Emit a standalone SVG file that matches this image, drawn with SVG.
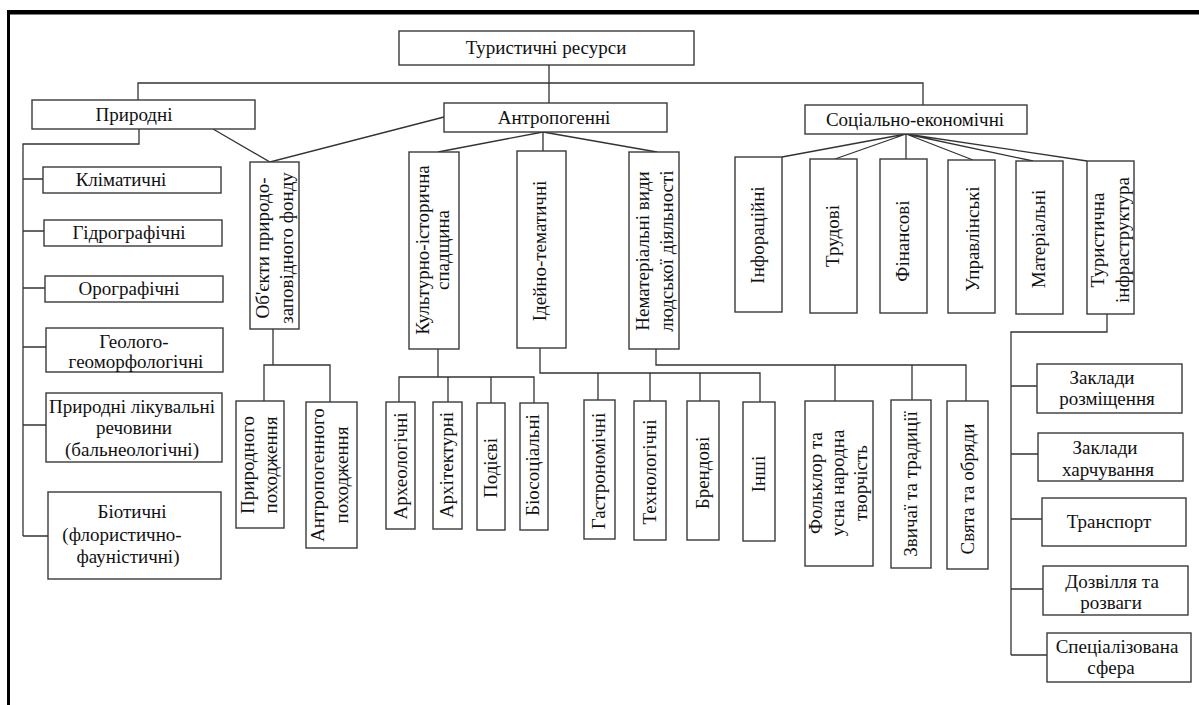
<svg xmlns="http://www.w3.org/2000/svg" width="1199" height="705" viewBox="0 0 1199 705">
<style>
.box{fill:#fff;stroke:#3a3a3a;stroke-width:1.4}
.c{fill:none;stroke:#333;stroke-width:1.3}
.t{font-family:"Liberation Serif","Times New Roman",serif;font-size:19px;fill:#111;text-anchor:middle}
</style>
<rect x="0" y="0" width="1199" height="705" fill="#fff"/>
<rect x="7" y="10" width="1192" height="4.5" fill="#000"/>
<rect x="7" y="10" width="3" height="695" fill="#000"/>
<g id="connectors" class="c">
<path d="M549,65 V103 M138,100 V83 H923 V105"/>
<path d="M139,129 V144 H23 V536 M23,179 H43 M23,231 H44 M23,288 H45 M23,347 H46 M23,425 H46 M23,536 H48"/>
<path d="M213,129 L270,162 L444,117"/>
<path d="M273,329 V365 M264,401 V365 H330 V402"/>
<path d="M543,132 L438,152 M543,132 V151 M543,132 L657,152"/>
<path d="M438,349 V377 M399,402 V377 H534 V403 M448,377 V402 M491,377 V403"/>
<path d="M540,348 V373 H760 V402 M598,373 V400 M650,373 V401 M700,373 V401"/>
<path d="M656,349 V365 H966 V401 M835,365 V401 M912,365 V400"/>
<path d="M906,134 L782,157 M906,134 L835,159 M906,134 V159 M906,134 L973,160 M906,134 L1033,161 M906,134 L1087,161"/>
<path d="M1107,314 V332 H1011 V655 M1011,386 H1037 M1011,454 H1038 M1011,519 H1042 M1011,589 H1043 M1011,655 H1047"/>
</g>
<g id="root"><rect class="box" x="399" y="31" width="295" height="34"/><text class="t" x="546" y="54">Туристичні ресурси</text></g>
<g id="pryrodni"><rect class="box" x="32" y="100" width="223" height="29"/><text class="t" x="134" y="121">Природні</text></g>
<g id="antropogenni"><rect class="box" x="444" y="103" width="223" height="29"/><text class="t" x="554" y="124">Антропогенні</text></g>
<g id="sotsialno"><rect class="box" x="805" y="105" width="222" height="29"/><text class="t" x="915" y="126">Соціально-економічні</text></g>

<g id="klimatychni"><rect class="box" x="43" y="167" width="178" height="26"/><text class="t" x="121" y="186">Кліматичні</text></g>
<g id="hidrohrafichni"><rect class="box" x="44" y="220" width="178" height="26"/><text class="t" x="129" y="239">Гідрографічні</text></g>
<g id="orohrafichni"><rect class="box" x="45" y="276" width="178" height="26"/><text class="t" x="129" y="295">Орографічні</text></g>
<g id="heoloho"><rect class="box" x="46" y="328" width="177" height="44"/><text class="t"><tspan x="134" y="348">Геолого-</tspan><tspan x="136" y="368">геоморфологічні</tspan></text></g>
<g id="likuvalni"><rect class="box" x="46" y="393" width="176" height="69"/><text class="t"><tspan x="132" y="413">Природні лікувальні</tspan><tspan x="134" y="434">речовини</tspan><tspan x="132" y="456">(бальнеологічні)</tspan></text></g>
<g id="biotychni"><rect class="box" x="48" y="492" width="173" height="87"/><text class="t"><tspan x="132" y="518">Біотичні</tspan><tspan x="122" y="541">(флористично-</tspan><tspan x="128" y="563">фауністичні)</tspan></text></g>

<g id="obiekty"><rect class="box" x="250" y="162" width="49" height="167"/><text class="t" transform="translate(274,248) rotate(-90)"><tspan x="0" y="-5">Об'єкти природо-</tspan><tspan x="0" y="19">заповідного фонду</tspan></text></g>
<g id="pryrodnoho"><rect class="box" x="236" y="401" width="48" height="127"/><text class="t" transform="translate(260,465) rotate(-90)"><tspan x="0" y="-6">Природного</tspan><tspan x="0" y="17">походження</tspan></text></g>
<g id="antropohennoho"><rect class="box" x="306" y="402" width="51" height="146"/><text class="t" transform="translate(331,475) rotate(-90)"><tspan x="0" y="-7">Антропогенного</tspan><tspan x="0" y="17">походження</tspan></text></g>

<g id="kulturno"><rect class="box" x="409" y="152" width="50" height="197"/><text class="t" transform="translate(434,250) rotate(-90)"><tspan x="0" y="-5">Культурно-історична</tspan><tspan x="0" y="15">спадщина</tspan></text></g>
<g id="ideino"><rect class="box" x="517" y="151" width="49" height="197"/><text class="t" transform="translate(546,251) rotate(-90)">Ідейно-тематичні</text></g>
<g id="nematerialni"><rect class="box" x="629" y="152" width="50" height="197"/><text class="t" transform="translate(655,251) rotate(-90)"><tspan x="0" y="-6">Нематеріальні види</tspan><tspan x="0" y="18">людської діяльності</tspan></text></g>

<g id="arkheolohichni"><rect class="box" x="386" y="402" width="29" height="127"/><text class="t" transform="translate(407,466) rotate(-90)">Археологічні</text></g>
<g id="arkhitekturni"><rect class="box" x="433" y="402" width="29" height="127"/><text class="t" transform="translate(453,465) rotate(-90)">Архітектурні</text></g>
<g id="podiievi"><rect class="box" x="477" y="403" width="28" height="127"/><text class="t" transform="translate(497,468) rotate(-90)">Подієві</text></g>
<g id="biosotsialni"><rect class="box" x="520" y="403" width="28" height="127"/><text class="t" transform="translate(539,465) rotate(-90)">Біосоціальні</text></g>

<g id="hastronomichni"><rect class="box" x="584" y="400" width="31" height="139"/><text class="t" transform="translate(605,471) rotate(-90)">Гастрономічні</text></g>
<g id="tekhnolohichni"><rect class="box" x="634" y="401" width="32" height="139"/><text class="t" transform="translate(656,472) rotate(-90)">Технологічні</text></g>
<g id="brendovi"><rect class="box" x="687" y="401" width="32" height="139"/><text class="t" transform="translate(709,473) rotate(-90)">Брендові</text></g>
<g id="inshi"><rect class="box" x="743" y="402" width="32" height="139"/><text class="t" transform="translate(765,474) rotate(-90)">Інші</text></g>

<g id="folklor"><rect class="box" x="805" y="401" width="68" height="165"/><text class="t" transform="translate(839,483) rotate(-90)"><tspan x="0" y="-17">Фольклор та</tspan><tspan x="0" y="5">усна народна</tspan><tspan x="0" y="28">творчість</tspan></text></g>
<g id="zvychai"><rect class="box" x="891" y="400" width="40" height="168"/><text class="t" transform="translate(917,484) rotate(-90)">Звичаї та традиції</text></g>
<g id="sviata"><rect class="box" x="947" y="401" width="41" height="168"/><text class="t" transform="translate(974,489) rotate(-90)">Свята та обряди</text></g>

<g id="informatsiini"><rect class="box" x="735" y="157" width="47" height="155"/><text class="t" transform="translate(764,235) rotate(-90)">Інфораційні</text></g>
<g id="trudovi"><rect class="box" x="810" y="159" width="47" height="154"/><text class="t" transform="translate(839,236) rotate(-90)">Трудові</text></g>
<g id="finansovi"><rect class="box" x="880" y="159" width="47" height="154"/><text class="t" transform="translate(909,241) rotate(-90)">Фінансові</text></g>
<g id="upravlinski"><rect class="box" x="948" y="160" width="47" height="153"/><text class="t" transform="translate(979,239) rotate(-90)">Управлінські</text></g>
<g id="materialni"><rect class="box" x="1016" y="161" width="47" height="153"/><text class="t" transform="translate(1045,239) rotate(-90)">Матеріальні</text></g>
<g id="infrastruktura"><rect class="box" x="1087" y="161" width="47" height="153"/><text class="t" transform="translate(1110,240) rotate(-90)"><tspan x="0" y="-6">Туристична</tspan><tspan x="0" y="19">інфраструктура</tspan></text></g>

<g id="rozmishchennia"><rect class="box" x="1037" y="364" width="145" height="49"/><text class="t"><tspan x="1102" y="384">Заклади</tspan><tspan x="1107" y="405">розміщення</tspan></text></g>
<g id="kharchuvannia"><rect class="box" x="1038" y="433" width="145" height="48"/><text class="t"><tspan x="1105" y="454">Заклади</tspan><tspan x="1108" y="476">харчування</tspan></text></g>
<g id="transport"><rect class="box" x="1042" y="498" width="144" height="48"/><text class="t" x="1109" y="528">Транспорт</text></g>
<g id="dozvillia"><rect class="box" x="1043" y="566" width="145" height="49"/><text class="t"><tspan x="1112" y="588">Дозвілля та</tspan><tspan x="1111" y="609">розваги</tspan></text></g>
<g id="spetsializovana"><rect class="box" x="1047" y="633" width="144" height="49"/><text class="t"><tspan x="1117" y="653">Спеціалізована</tspan><tspan x="1111" y="674">сфера</tspan></text></g>
</svg>
